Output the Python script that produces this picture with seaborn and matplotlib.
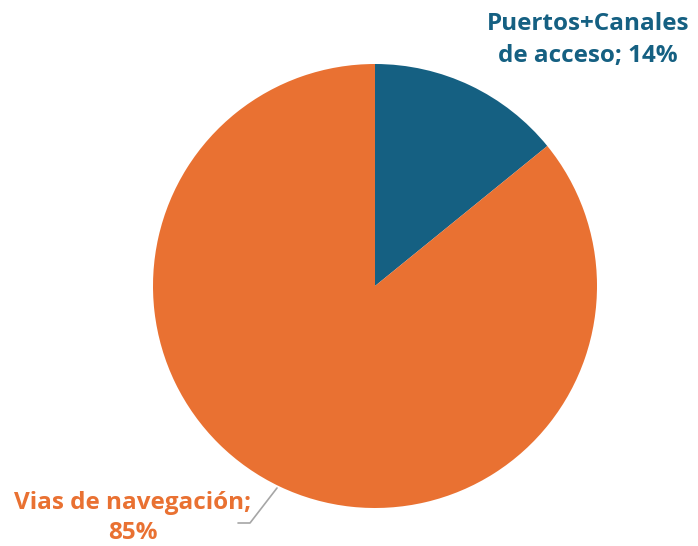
import matplotlib
matplotlib.use("Agg")
import matplotlib.pyplot as plt
import seaborn as sns

categories = ["Puertos+Canales\nde acceso", "Vias de navegación"]
values = [14, 85]
colors = ["#156082", "#E97132"]

sns.set_theme(style="white")
plt.rcParams['font.family'] = ['Open Sans', 'DejaVu Sans']

fig = plt.figure(figsize=(6.98, 5.46), dpi=100)
ax = fig.add_axes([0, 0, 1, 1])

ax.pie(values, colors=colors, startangle=90, counterclock=False,
       center=(375, 260), radius=222, frame=True,
       wedgeprops=dict(linewidth=0))
ax.set_xlim(0, 698)
ax.set_ylim(0, 546)
ax.axis("off")

ax.text(588, 506, f"{categories[0]}; {values[0]}%", color=colors[0], fontsize=17.5,
        fontweight="bold", ha="center", va="center", linespacing=1.42)
ax.text(133, 28, f"{categories[1]};\n{values[1]}%", color=colors[1], fontsize=17.5,
        fontweight="bold", ha="center", va="center", linespacing=1.38)
ax.plot([277, 250, 238], [58, 23, 23], color="#A6A6A6", linewidth=1.2)

fig.savefig("out.png", dpi=100)
